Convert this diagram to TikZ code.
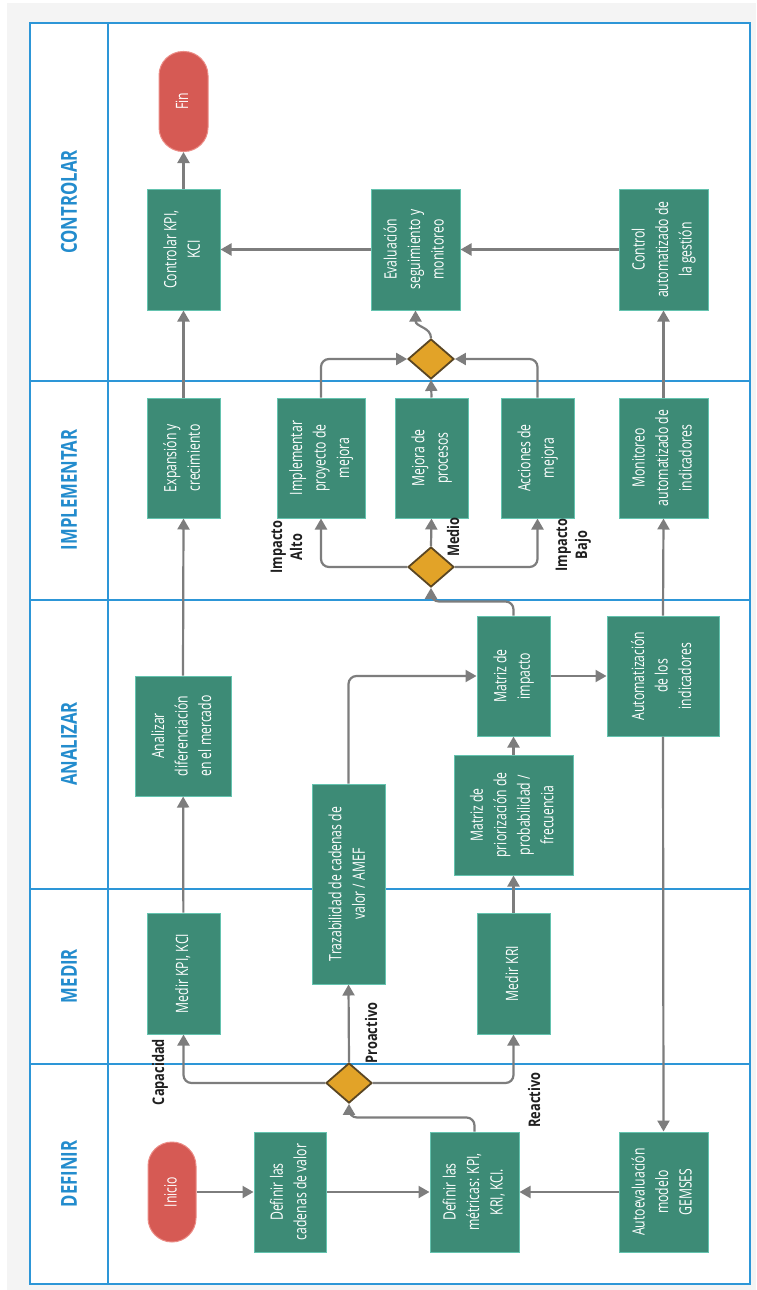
\documentclass[tikz,border=0pt]{standalone}
\usepackage{graphicx}
\usepackage{fontspec}
\setmainfont{Open Sans}
\usetikzlibrary{shapes.geometric,arrows.meta}
\definecolor{boxfill}{RGB}{61,139,118}
\definecolor{boxline}{RGB}{100,195,175}
\definecolor{pillfill}{RGB}{214,90,84}
\definecolor{pillline}{RGB}{235,140,134}
\definecolor{gwfill}{RGB}{226,163,40}
\definecolor{gwline}{RGB}{90,70,35}
\definecolor{laneline}{RGB}{45,150,215}
\definecolor{lanetext}{RGB}{35,140,205}
\definecolor{conn}{RGB}{125,125,125}
\definecolor{bggray}{RGB}{244,244,244}
\newcommand\bt[1]{\rotatebox{90}{\scalebox{0.72}[1]{\begin{tabular}{@{}c@{}}#1\end{tabular}}}}
\newcommand\lt[1]{\rotatebox{90}{\scalebox{0.8}[1]{\begin{tabular}{@{}c@{}}#1\end{tabular}}}}
\newcommand\lanetxt[1]{\rotatebox{90}{\scalebox{0.76}[1]{#1}}}
\tikzset{
  stepbox/.style={draw=boxline, line width=1pt, fill=boxfill, text=white, inner sep=0pt,
    minimum width=73pt, minimum height=121pt, font=\fontsize{17}{23.5}\selectfont},
  pill/.style={fill=pillfill, draw=pillline, line width=1pt, text=white, inner sep=0pt,
    minimum width=49pt, minimum height=100pt, rounded corners=24pt, font=\fontsize{17}{23.5}\selectfont},
  gw/.style={diamond, fill=gwfill, draw=gwline, line width=1.8pt, minimum width=46pt,
    minimum height=40pt, inner sep=0pt},
  flow/.style={draw=conn, line width=2.2pt, -{Triangle[length=11pt,width=12pt]}, rounded corners=8pt},
  lanelbl/.style={text=lanetext, font=\bfseries\fontsize{22}{26}\selectfont},
  tag/.style={text=black!88, inner sep=0pt, font=\bfseries\fontsize{16}{20}\selectfont},
  laneln/.style={draw=laneline, line width=2pt}
}
\begin{document}
\begin{tikzpicture}[x=1pt,y=-1pt]
\useasboundingbox (0,0) rectangle (756,1290);
% background and frame
\fill[bggray] (7,3) rectangle (756,1290);
\fill[white] (30,23) rectangle (750,1284);
\draw[laneln] (30,23) rectangle (750,1284);
\draw[laneln] (108,23) -- (108,1284);
\foreach \yy in {381,600,889,1064} \draw[laneln] (30,\yy) -- (750,\yy);
% lane labels
\node[lanelbl] (lctrl) at (69,202) {\lanetxt{CONTROLAR}};
\node[lanelbl] (limpl) at (69,490) {\lanetxt{IMPLEMENTAR}};
\node[lanelbl] (lanal) at (69,744) {\lanetxt{ANALIZAR}};
\node[lanelbl] (lmed) at (69,976) {\lanetxt{MEDIR}};
\node[lanelbl] (ldef) at (69,1174) {\lanetxt{DEFINIR}};
% CONTROLAR
\node[pill] (fin) at (183.5,101.5) {\bt{Fin}};
\node[stepbox] (ctrlkpi) at (183.5,249.5) {\bt{Controlar KPI,\\KCI}};
\node[stepbox, minimum width=89pt] (eval) at (415.5,249.5) {\bt{Evaluación\\seguimiento y\\monitoreo}};
\node[stepbox, minimum width=89pt] (ctrlauto) at (663.5,249.5) {\bt{Control\\automatizado de\\la gestión}};
% IMPLEMENTAR
\node[stepbox, minimum height=120pt] (expansion) at (183.5,458) {\bt{Expansión y\\crecimiento}};
\node[stepbox, minimum width=88pt, minimum height=120pt] (implproy) at (321,458) {\bt{Implementar\\proyecto de\\mejora}};
\node[stepbox, minimum height=120pt] (mejproc) at (431.5,458) {\bt{Mejora de\\procesos}};
\node[stepbox, minimum height=120pt] (acciones) at (537.5,458) {\bt{Acciones de\\mejora}};
\node[stepbox, minimum width=89pt, minimum height=120pt] (monitoreo) at (663.5,458) {\bt{Monitoreo\\automatizado de\\indicadores}};
\node[gw] (gw3) at (431,359) {};
\node[gw] (gw2) at (431,567) {};
% ANALIZAR
\node[stepbox, minimum width=96pt, minimum height=120pt] (analizar) at (183,736) {\bt{Analizar\\diferenciación\\en el mercado}};
\node[stepbox, minimum height=120pt] (matimpacto) at (513.5,676) {\bt{Matriz de\\impacto}};
\node[stepbox, minimum width=112pt, minimum height=120pt] (automat) at (663,676) {\bt{Automatización\\de los\\indicadores}};
\node[stepbox, minimum height=200pt] (trazab) at (348.5,884) {\bt{Trazabilidad de cadenas de\\valor / AMEF}};
\node[stepbox, minimum width=119pt, minimum height=120pt] (matprior) at (513.5,815) {\bt{Matriz de\\priorización de\\probabilidad /\\frecuencia}};
% MEDIR
\node[stepbox] (medirkpi) at (183.5,973.5) {\bt{Medir KPI, KCI}};
\node[stepbox] (medirkri) at (513.5,973.5) {\bt{Medir KRI}};
% DEFINIR
\node[gw] (gw1) at (349,1083) {};
\node[pill, minimum width=48pt] (inicio) at (172,1192) {\bt{Inicio}};
\node[stepbox, minimum width=72pt, minimum height=120pt] (defcad) at (290,1192) {\bt{Definir las\\cadenas de valor}};
\node[stepbox, minimum width=89pt, minimum height=120pt] (defmet) at (474.5,1192) {\bt{Definir las\\métricas: KPI,\\KRI, KCI.}};
\node[stepbox, minimum width=89pt, minimum height=120pt] (autoeval) at (663.5,1192) {\bt{Autoevaluación\\modelo\\GEMSES}};
% tags
\node[tag] (tcap) at (160,1072) {\lt{Capacidad}};
\node[tag] (tpro) at (373,1033) {\lt{Proactivo}};
\node[tag] (trea) at (536,1100) {\lt{Reactivo}};
\node[tag] (talto) at (288,547) {\lt{Impacto\\Alto}};
\node[tag] (tmed) at (455,537) {\lt{Medio}};
\node[tag] (tbajo) at (573,545) {\lt{Impacto\\Bajo}};
% connectors
\draw[flow] (inicio) -- (defcad);
\draw[flow] (defcad) -- (defmet);
\draw[flow] (autoeval) -- (defmet);
\draw[flow] (defmet.north) -- ++(0,-14) -| (gw1.south);
\draw[flow] (gw1.west) -| (medirkpi.south);
\draw[flow] (gw1.east) -| (medirkri.south);
\draw[flow] (gw1.north) -- (trazab.south);
\draw[flow] (medirkpi) -- (analizar);
\draw[flow] (medirkri) -- (matprior);
\draw[flow] (matprior) -- (matimpacto);
\draw[flow] (trazab.north) |- (matimpacto.west);
\draw[flow] (matimpacto) -- (automat);
\draw[flow] (matimpacto.north) -- ++(0,-14) -| (gw2.south);
\draw[flow] (gw2.west) -| (implproy.south);
\draw[flow] (gw2.north) -- (mejproc.south);
\draw[flow] (gw2.east) -| (acciones.south);
\draw[flow] (implproy.north) |- (gw3.west);
\draw[flow] (acciones.north) |- (gw3.east);
\draw[flow] (mejproc.north) -- (gw3.south);
\draw[flow] (gw3.north) .. controls (431,327) and (415.5,327) .. (eval.south);
\draw[flow] (ctrlauto) -- (eval);
\draw[flow] (eval) -- (ctrlkpi);
\draw[flow] (expansion) -- (ctrlkpi);
\draw[flow] (analizar.north) -- (expansion.south);
\draw[flow] (ctrlkpi) -- (fin);
\draw[flow] (automat.north) -- (monitoreo.south);
\draw[flow] (monitoreo) -- (ctrlauto);
\draw[flow] (automat.south) -- (autoeval.north);
\end{tikzpicture}
\end{document}
